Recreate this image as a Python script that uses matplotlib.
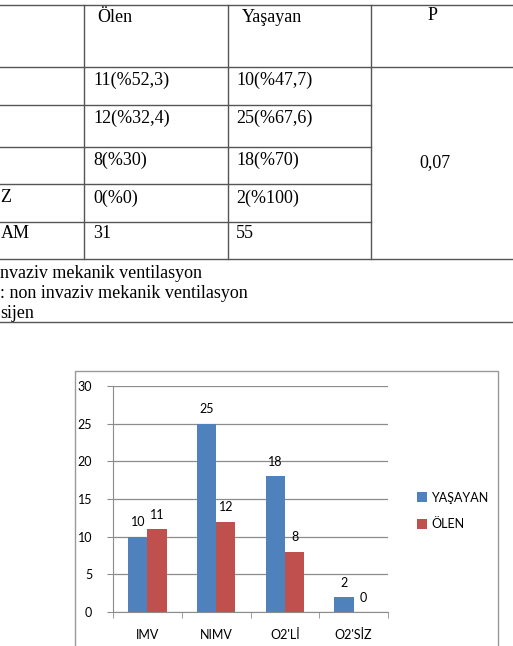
"""Ölen / Yaşayan tablosu ve ventilasyon tipine göre sütun grafiği"""

import matplotlib.pyplot as plt
import numpy as np
from matplotlib.patches import Rectangle

# tablo verisi
header = ["Ölen", "Yaşayan", "P"]
row_labels = ["", "", "", "Z", "AM"]
olen_cells = ["11(%52,3)", "12(%32,4)", "8(%30)", "0(%0)", "31"]
yasayan_cells = ["10(%47,7)", "25(%67,6)", "18(%70)", "2(%100)", "55"]
p_value = "0,07"
footnotes = ["nvaziv mekanik ventilasyon", ": non invaziv mekanik ventilasyon", "sijen"]

# grafik verisi
categories = ["IMV", "NIMV", "O2'Lİ", "O2'SİZ"]
yasayan = [10, 25, 18, 2]
olen = [11, 12, 8, 0]

W, H = 513, 646
fig = plt.figure(figsize=(W / 100, H / 100), dpi=100)

# sayfa (piksel koordinatları)
bg = fig.add_axes([0, 0, 1, 1])
bg.set_xlim(0, W)
bg.set_ylim(H, 0)
bg.axis("off")

line_c = "#555555"
serif = "Liberation Serif"
fs = 13

# tablo çizgileri
for y in [5, 67, 259, 322]:
    bg.plot([0, W], [y, y], color=line_c, lw=1)
for y in [105, 147, 184, 222]:
    bg.plot([0, 371], [y, y], color=line_c, lw=1)
for x in [84, 228, 371]:
    bg.plot([x, x], [5, 259], color=line_c, lw=1)

# başlıklar
bg.text(97, 17, header[0], family=serif, fontsize=fs, va="center")
bg.text(242, 17, header[1], family=serif, fontsize=fs, va="center")
bg.text(433, 16, header[2], family=serif, fontsize=fs, va="center", ha="center")

row_y = [80, 118, 160, 198, 234]
for y, lab, a, b in zip(row_y, row_labels, olen_cells, yasayan_cells):
    bg.text(0.5, y, lab, family=serif, fontsize=fs, va="center")
    bg.text(93, y, a, family=serif, fontsize=fs, va="center")
    bg.text(236, y, b, family=serif, fontsize=fs, va="center")
bg.text(435, 163, p_value, family=serif, fontsize=fs, va="center", ha="center")

for y, t in zip([273, 293, 313], footnotes):
    bg.text(0.5, y, t, family=serif, fontsize=fs, va="center")

# grafik çerçevesi
bg.add_patch(Rectangle((75, 371), 423, 290, fill=False, edgecolor="#999999", lw=1))

# sütun grafiği
ax = fig.add_axes([113 / W, 1 - 612 / H, (388 - 113) / W, (612 - 386) / H])
x = np.arange(len(categories))
w = 0.28
b1 = ax.bar(x - w / 2, yasayan, w, color="#4F81BD", label="YAŞAYAN")
b2 = ax.bar(x + w / 2, olen, w, color="#C0504D", label="ÖLEN")

sans = "Lato"
lfs = 9
ax.bar_label(b1, padding=6, family=sans, fontsize=lfs)
ax.bar_label(b2, padding=6, family=sans, fontsize=lfs)

ax.set_xlim(-0.5, len(categories) - 0.5)
ax.set_ylim(0, 30)
ax.set_yticks(range(0, 31, 5))
ax.yaxis.grid(True, color="#8c8c8c", lw=0.9)
ax.set_axisbelow(True)
ax.set_xticks(x)
ax.set_xticklabels(categories, family=sans, fontsize=lfs)
ax.set_xticks(np.arange(-0.5, len(categories)), minor=True)
ax.tick_params(axis="x", which="major", length=0, pad=12)
ax.tick_params(axis="x", which="minor", length=4, color="#8c8c8c")
ax.tick_params(axis="y", length=4, color="#8c8c8c", pad=11)
for lab in ax.get_yticklabels():
    lab.set_family(sans)
    lab.set_fontsize(lfs)
for s in ["top", "right"]:
    ax.spines[s].set_visible(False)
for s in ["left", "bottom"]:
    ax.spines[s].set_color("#8c8c8c")

fig.legend(handles=[b1, b2], loc="center left",
           bbox_to_anchor=(406 / W, 1 - 511 / H), frameon=False,
           prop={"family": sans, "size": lfs},
           handlelength=0.8, handleheight=0.8, handletextpad=0.3,
           labelspacing=1.2)

fig.savefig("out.png", dpi=100)
